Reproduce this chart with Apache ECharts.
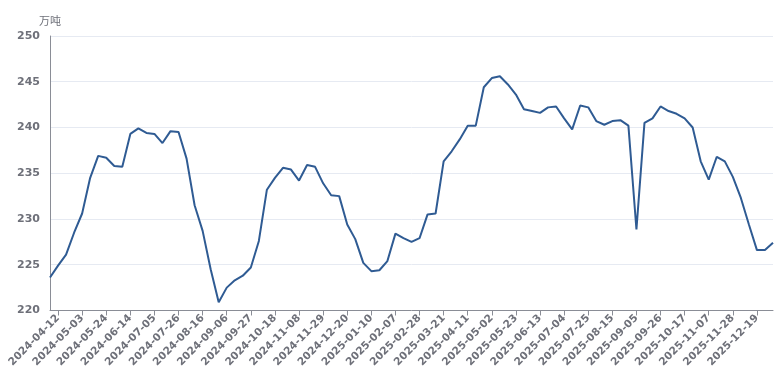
<!DOCTYPE html>
<html>
<head>
<meta charset="utf-8">
<script src="https://cdn.jsdelivr.net/npm/echarts@6/dist/echarts.min.js"></script>
<style>
html,body{margin:0;padding:0;background:#fff;}
#chart{width:782px;height:370px;}
</style>
</head>
<body>
<div id="chart"></div>
<script>
const dates = [
'2024-04-05','2024-04-12','2024-04-19','2024-04-26','2024-05-03','2024-05-10','2024-05-17','2024-05-24','2024-05-31',
'2024-06-07','2024-06-14','2024-06-21','2024-06-28','2024-07-05','2024-07-12','2024-07-19','2024-07-26',
'2024-08-02','2024-08-09','2024-08-16','2024-08-23','2024-08-30','2024-09-06','2024-09-13','2024-09-20','2024-09-27',
'2024-10-04','2024-10-11','2024-10-18','2024-10-25','2024-11-01','2024-11-08','2024-11-15','2024-11-22','2024-11-29',
'2024-12-06','2024-12-13','2024-12-20','2024-12-27','2025-01-03','2025-01-10','2025-01-17','2025-01-24',
'2025-02-07','2025-02-14','2025-02-21','2025-02-28','2025-03-07','2025-03-14','2025-03-21','2025-03-28',
'2025-04-04','2025-04-11','2025-04-18','2025-04-25','2025-05-02','2025-05-09','2025-05-16','2025-05-23','2025-05-30',
'2025-06-06','2025-06-13','2025-06-20','2025-06-27','2025-07-04','2025-07-11','2025-07-18','2025-07-25',
'2025-08-01','2025-08-08','2025-08-15','2025-08-22','2025-08-29','2025-09-05','2025-09-12','2025-09-19','2025-09-26',
'2025-10-03','2025-10-10','2025-10-17','2025-10-24','2025-10-31','2025-11-07','2025-11-14','2025-11-21','2025-11-28',
'2025-12-05','2025-12-12','2025-12-19','2025-12-26','2026-01-02'
];
const values = [
223.6,224.9,226.1,228.5,230.6,234.5,236.9,236.7,235.8,
235.7,239.3,239.9,239.4,239.3,238.3,239.6,239.5,
236.6,231.5,228.7,224.5,220.9,222.5,223.3,223.8,224.7,
227.6,233.2,234.5,235.6,235.4,234.2,235.9,235.7,233.9,
232.6,232.5,229.4,227.8,225.2,224.3,224.4,225.4,
228.4,227.9,227.5,227.9,230.5,230.6,236.3,237.4,
238.7,240.2,240.2,244.4,245.4,245.6,244.7,243.6,242.0,
241.8,241.6,242.2,242.3,241.0,239.8,242.4,242.2,
240.7,240.3,240.7,240.8,240.2,228.85,240.5,241.0,242.3,
241.8,241.5,241.0,240.0,236.3,234.3,236.8,236.3,234.6,
232.3,229.4,226.6,226.6,227.4
];
const unitName = '万吨';
const yMin = 220, yMax = 250, yStep = 5;

const chart = echarts.init(document.getElementById('chart'));
const labelEvery = (idx) => idx % 3 === 1;
chart.setOption({
  animation: false,
  grid: { left: 50, right: 9, top: 36, bottom: 57, containLabel: false },
  xAxis: {
    type: 'category',
    data: dates,
    boundaryGap: false,
    axisLine: { lineStyle: { color: '#8a8d96' } },
    axisTick: { interval: labelEvery, lineStyle: { color: '#8a8d96' } },
    axisLabel: {
      interval: labelEvery,
      rotate: 45,
      color: '#6E7079',
      fontFamily: 'DejaVu Sans',
      fontWeight: 'bold',
      fontSize: 10.5,
      margin: 6
    },
    splitLine: { show: false }
  },
  yAxis: {
    type: 'value',
    min: yMin, max: yMax, interval: yStep,
    name: unitName,
    nameGap: 10,
    nameTextStyle: { color: '#6E7079', fontSize: 11, fontFamily: 'Noto Sans CJK SC' },
    axisLine: { show: true, lineStyle: { color: '#8a8d96' } },
    axisTick: { show: false },
    axisLabel: {
      color: '#6E7079',
      fontFamily: 'DejaVu Sans',
      fontWeight: 'bold',
      fontSize: 11,
      margin: 10
    },
    splitLine: { lineStyle: { color: '#E6EAF2' } }
  },
  series: [{
    type: 'line',
    data: values,
    showSymbol: false,
    symbol: 'none',
    lineStyle: { color: '#2F5B93', width: 2 },
    itemStyle: { color: '#2F5B93' }
  }]
});
</script>
</body>
</html>
